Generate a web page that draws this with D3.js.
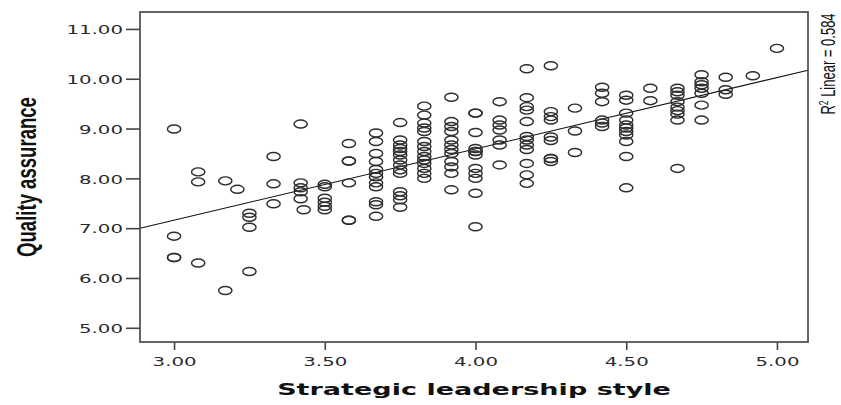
<!DOCTYPE html>
<html><head><meta charset="utf-8">
<script src="https://cdn.jsdelivr.net/npm/d3@7"></script>
<style>body{margin:0;background:#fff;} svg{display:block;}</style>
</head><body><svg id="chart" width="841" height="405"></svg>
<script>
const leadershipLevels = [3.00, 3.08, 3.17, 3.21, 3.25, 3.33, 3.42, 3.43, 3.50, 3.58, 3.67, 3.75, 3.83, 3.92, 4.00, 4.08, 4.17, 4.25, 4.33, 4.42, 4.50, 4.58, 4.67, 4.75, 4.83, 4.92, 5.00];
const qualityScores = [
  [8.99, 6.84, 6.41, 6.41],
  [8.13, 7.93, 6.30],
  [7.95, 5.75],
  [7.78],
  [7.30, 7.22, 7.02, 6.13],
  [8.44, 7.89, 7.49],
  [9.09, 7.91, 7.81, 7.73, 7.59],
  [7.37],
  [7.88, 7.83, 7.60, 7.52, 7.44, 7.37],
  [8.70, 8.35, 8.35, 7.91, 7.16, 7.16],
  [8.91, 8.74, 8.50, 8.34, 8.18, 8.10, 8.03, 7.91, 7.83, 7.53, 7.47, 7.24],
  [9.12, 8.77, 8.67, 8.60, 8.54, 8.47, 8.37, 8.27, 8.17, 8.10, 7.73, 7.65, 7.57, 7.42],
  [9.45, 9.27, 9.11, 9.01, 8.94, 8.74, 8.64, 8.54, 8.44, 8.37, 8.30, 8.20, 8.10, 8.00],
  [9.63, 9.14, 9.04, 8.94, 8.77, 8.67, 8.58, 8.50, 8.34, 8.23, 8.10, 7.77],
  [9.31, 9.31, 8.92, 8.60, 8.54, 8.54, 8.47, 8.20, 8.10, 8.00, 7.70, 7.03],
  [9.54, 9.17, 9.07, 8.97, 8.77, 8.67, 8.27],
  [10.20, 9.62, 9.44, 9.37, 9.14, 8.84, 8.77, 8.67, 8.58, 8.30, 8.07, 7.90],
  [10.26, 9.34, 9.24, 9.17, 8.83, 8.76, 8.40, 8.40, 8.34],
  [9.41, 8.95, 8.52],
  [9.83, 9.71, 9.54, 9.17, 9.11, 9.04],
  [9.67, 9.57, 9.31, 9.17, 9.07, 9.01, 8.94, 8.87, 8.74, 8.44, 7.81],
  [9.81, 9.56],
  [9.81, 9.74, 9.67, 9.54, 9.43, 9.36, 9.29, 9.17, 8.20],
  [10.08, 9.94, 9.88, 9.81, 9.71, 9.47, 9.17],
  [10.03, 9.78, 9.69],
  [10.06],
  [10.61]
];
const yTickValues = [5, 6, 7, 8, 9, 10, 11];
const xTickValues = [3.0, 3.5, 4.0, 4.5, 5.0];
const fitIntercept = 2.870;
const fitSlope = 1.4305;
const rSquaredLabel = "0.584";
const xTitle = "Strategic leadership style";
const yTitle = "Quality assurance";

const svg = d3.select("#chart");
const frame = {left: 140, right: 808, top: 12, bottom: 342};
const x = d3.scaleLinear().domain([2.887, 5.103]).range([frame.left, frame.right]);
const y = d3.scaleLinear().domain([4.715, 11.34]).range([frame.bottom, frame.top]);
const points = leadershipLevels.flatMap((lv, i) => qualityScores[i].map(q => ({x: lv, y: q})));
const fmt = d3.format(".2f");

const yAxis = svg.append("g").attr("transform", `translate(${frame.left},0)`)
  .call(d3.axisLeft(y).tickValues(yTickValues).tickFormat(fmt).tickSize(14).tickSizeOuter(0));
const xAxis = svg.append("g").attr("transform", `translate(0,${frame.bottom})`)
  .call(d3.axisBottom(x).tickValues(xTickValues).tickFormat(fmt).tickSize(8).tickSizeOuter(0));
[yAxis, xAxis].forEach(g => {
  g.select(".domain").remove();
  g.selectAll("line").attr("stroke", "#444").attr("stroke-width", 1.6);
  g.selectAll("text").attr("font-family", "DejaVu Sans, Verdana, sans-serif").attr("font-size", 13).attr("fill", "#2a2a2a");
});
const sample = yAxis.selectAll("text").filter(d => d === 9).node();
const sx = 44 / sample.getComputedTextLength();
yAxis.selectAll("text").attr("x", null).attr("dy", "0.36em")
  .attr("transform", `translate(-17,0) scale(${sx},1)`);
xAxis.selectAll("text").attr("y", null).attr("dy", null)
  .attr("transform", `translate(0,24) scale(${sx},1)`);

const xd = x.domain();
svg.append("line")
  .attr("x1", x(xd[0])).attr("y1", y(fitIntercept + fitSlope * xd[0]))
  .attr("x2", x(xd[1])).attr("y2", y(fitIntercept + fitSlope * xd[1]))
  .attr("stroke", "#111").attr("stroke-width", 1.1);

svg.append("g").selectAll("ellipse").data(points).join("ellipse")
  .attr("cx", d => x(d.x)).attr("cy", d => y(d.y))
  .attr("rx", 6.6).attr("ry", 4.0)
  .attr("fill", "none").attr("stroke", "#2e2e2e").attr("stroke-width", 1.45);

svg.append("rect")
  .attr("x", frame.left).attr("y", frame.top)
  .attr("width", frame.right - frame.left).attr("height", frame.bottom - frame.top)
  .attr("fill", "none").attr("stroke", "#4a4a4a").attr("stroke-width", 1.7);

const xt = svg.append("text")
  .attr("text-anchor", "middle")
  .attr("font-family", "DejaVu Sans, Verdana, sans-serif").attr("font-weight", "bold").attr("font-size", 15.5)
  .attr("fill", "#111").text(xTitle);
const xtScale = 394 / xt.node().getComputedTextLength();
xt.attr("transform", `translate(${(frame.left + frame.right) / 2},395) scale(${xtScale},1)`);

const yt = svg.append("text")
  .attr("text-anchor", "middle")
  .attr("font-family", "Liberation Sans, Arial, sans-serif").attr("font-weight", "bold").attr("font-size", 18.5)
  .attr("fill", "#111").text(yTitle);
const ytLen = yt.node().getComputedTextLength();
yt.attr("font-size", 18.5 * 160 / ytLen)
  .attr("transform", `translate(36,177) scale(1.5,1) rotate(-90)`);

const rl = svg.append("text")
  .attr("text-anchor", "middle")
  .attr("font-family", "Liberation Sans, Arial, sans-serif").attr("font-size", 13)
  .attr("fill", "#111");
rl.append("tspan").text("R");
rl.append("tspan").attr("font-size", 8.5).attr("dy", -5).text("2");
rl.append("tspan").attr("dy", 5).text(" Linear = " + rSquaredLabel);
rl.attr("transform", `translate(835,64) scale(1.5,1) rotate(-90)`);
</script>
</body></html>
